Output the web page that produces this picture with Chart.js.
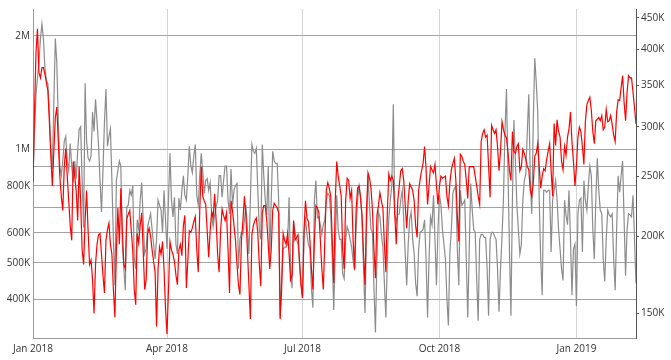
<!DOCTYPE html>
<html>
<head>
<meta charset="utf-8">
<script src="https://cdn.jsdelivr.net/npm/chart.js@4/dist/chart.umd.min.js"></script>
<style>
html,body{margin:0;padding:0;background:#fff;}
#wrap{width:671px;height:360px;position:relative;}
</style>
</head>
<body>
<div id="wrap"><canvas id="c" width="671" height="360"></canvas></div>
<script>
// Daily values starting Mon 1 Jan 2018 (index = day number), in thousands
const redK = [
244,317,395,432,367,360,374,
374,365,354,343,306,269,241,
274,311,323,284,250,232,220,
259,277,250,228,208,197,264,
250,237,212,259,228,190,180,
212,237,204,180,183,170,150,
180,194,201,202,187,173,162,
197,205,210,194,187,164,148,
190,222,194,239,204,180,177,
213,217,220,204,190,164,155,
202,195,208,218,190,164,170,
202,206,200,190,182,175,143,
177,192,187,196,177,153,139,
164,196,190,187,182,173,167,
190,194,186,208,216,165,183,
204,203,206,211,215,190,175,
220,259,232,228,225,204,185,
204,219,214,234,212,187,175,
204,221,216,212,218,190,162,
228,220,208,197,180,167,161,
197,212,232,216,190,167,147,
201,208,212,214,202,180,166,
218,224,224,212,194,177,190,
220,226,224,222,218,147,164,
202,197,194,202,187,170,173,
212,197,199,201,183,167,159,
204,228,214,211,197,177,164,
197,224,222,218,197,177,164,
197,237,244,239,232,197,168,
228,264,250,241,232,190,177,
228,248,246,230,237,197,177,
220,239,241,230,216,187,167,
220,253,248,239,220,190,171,
216,224,235,228,222,194,175,
220,252,246,250,246,216,194,
228,241,255,257,246,224,206,
228,243,240,237,228,208,199,
237,247,255,262,279,257,225,
241,259,256,253,261,241,225,
241,250,248,249,250,232,224,
244,256,262,267,246,216,196,
271,269,264,261,246,230,259,
259,259,259,250,241,232,225,
284,293,297,289,291,259,231,
302,297,293,297,279,255,274,
306,297,291,288,274,255,246,
295,274,272,279,282,255,259,
276,272,266,259,256,237,232,
243,269,272,282,259,239,250,
257,255,266,274,282,255,232,
304,280,308,295,289,264,256,
279,270,289,298,317,284,264,
241,259,289,300,295,279,261,
306,326,331,335,319,295,282,
307,309,311,307,313,297,300,
320,306,307,313,303,291,284,
317,332,331,347,363,329,307,
341,363,360,360,341,323,303
];
const grayK = [
826,1114,1390,1547,1693,1965,2150,
1965,1643,1520,1490,1255,988,887,
1332,1965,1693,1182,903,851,931,
1049,1081,931,877,1036,903,816,
931,836,988,1127,1147,826,620,
1495,1049,947,931,959,1255,1114,
1357,1182,1030,826,682,877,1182,
1444,1018,1081,1134,826,577,436,
826,877,931,903,560,482,423,
703,711,778,755,801,512,482,
650,613,733,816,650,528,544,
624,650,674,613,560,512,577,
733,711,690,602,778,650,544,
733,976,733,662,746,560,528,
742,690,778,851,755,733,851,
1018,903,867,959,1030,755,711,
851,976,877,764,826,836,778,
816,670,624,670,703,733,851,
851,746,826,903,903,733,674,
887,711,778,801,811,482,577,
602,595,650,711,613,528,733,
1030,988,976,1006,778,613,577,
1030,851,733,670,903,512,733,
988,931,917,917,733,358,454,
544,550,550,560,746,482,428,
642,602,577,560,497,441,403,
577,662,595,560,544,428,380,
733,826,658,662,631,595,631,
650,733,764,755,674,512,375,
544,755,613,577,577,468,454,
577,624,606,577,550,506,477,
613,733,801,755,650,482,368,
613,851,711,613,602,428,327,
512,682,662,595,553,441,358,
512,658,733,801,1316,674,642,
670,674,733,778,650,528,436,
560,650,682,577,528,441,408,
544,602,606,613,650,512,358,
512,662,631,755,577,436,613,
755,711,613,560,512,403,341,
534,613,764,787,801,544,436,
778,711,720,733,512,358,544,
811,690,613,602,454,351,577,
595,595,584,584,482,362,577,
602,602,588,577,482,371,482,
584,746,1114,1444,877,544,362,
733,1196,931,711,613,528,560,
733,826,861,1114,1398,826,674,
1182,1744,1502,1255,733,512,410,
778,778,769,778,778,534,733,
778,826,733,613,544,482,449,
733,670,631,778,577,410,544,
560,384,674,733,742,534,826,
733,690,801,903,851,613,512,
733,947,778,690,674,512,446,
577,690,670,662,674,512,423,
613,851,769,851,931,650,462,
613,674,670,662,755,577,441
];
// X tick positions (day index) and labels
const xTickDays = [0, 90, 181, 273, 365];
const xTickLabels = ['Jan 2018', 'Apr 2018', 'Jul 2018', 'Oct 2018', 'Jan 2019'];
// Left (gray) axis ticks
const leftTicks = [400000, 500000, 600000, 700000, 800000, 900000, 1000000, 2000000];
const leftLabels = ['400K', '500K', '600K', '', '800K', '', '1M', '2M'];
// Right (red) axis ticks
const rightTicks = [150000, 200000, 250000, 300000, 350000, 400000, 450000];
const rightLabels = ['150K', '200K', '250K', '300K', '350K', '400K', '450K'];

const redPts = redK.map((v, i) => ({x: i, y: v * 1000}));
const grayPts = grayK.map((v, i) => ({x: i, y: v * 1000}));

const FONT = {family: "'Open Sans', sans-serif", size: 10};

new Chart(document.getElementById('c'), {
  type: 'line',
  data: {
    datasets: [
      {data: redPts, yAxisID: 'yR', borderColor: '#ff0000', borderWidth: 1.2, pointRadius: 0, tension: 0},
      {data: grayPts, yAxisID: 'yL', borderColor: '#8c8c8c', borderWidth: 1.2, pointRadius: 0, tension: 0}
    ]
  },
  options: {
    responsive: false,
    animation: false,
    events: [],
    layout: {padding: {top: 5, left: 0, right: 0, bottom: 0}},
    plugins: {legend: {display: false}, tooltip: {enabled: false}},
    scales: {
      x: {
        type: 'linear', min: 0, max: redK.length - 1,
        afterBuildTicks: s => { s.ticks = xTickDays.map(v => ({value: v})); },
        afterFit: s => { s.height = 22; },
        ticks: {autoSkip: false, maxRotation: 0, padding: 5, color: '#333', font: FONT,
          callback: (v) => { const i = xTickDays.indexOf(v); return i >= 0 ? xTickLabels[i] : ''; }},
        grid: {color: '#d4d4d4', lineWidth: 1, drawTicks: false},
        border: {color: '#9a9a9a'}
      },
      yL: {
        type: 'logarithmic', position: 'left', min: 316000, max: 2354000,
        afterBuildTicks: s => { s.ticks = leftTicks.map(v => ({value: v})); },
        afterFit: s => { s.width = 33; },
        ticks: {autoSkip: false, padding: 3, color: '#333', font: FONT,
          callback: (v) => { const i = leftTicks.indexOf(v); return i >= 0 ? leftLabels[i] : ''; }},
        grid: {color: '#a3a3a3', lineWidth: 1, drawTicks: false},
        border: {color: '#9a9a9a'}
      },
      yR: {
        type: 'logarithmic', position: 'right', min: 137000, max: 465000,
        afterBuildTicks: s => { s.ticks = rightTicks.map(v => ({value: v})); },
        afterFit: s => { s.width = 35; },
        ticks: {autoSkip: false, padding: 2, color: '#333', font: FONT,
          callback: (v) => { const i = rightTicks.indexOf(v); return i >= 0 ? rightLabels[i] : ''; }},
        grid: {drawOnChartArea: false, drawTicks: true, tickLength: 3, color: '#555'},
        border: {color: '#555'}
      }
    }
  }
});
</script>
</body>
</html>
